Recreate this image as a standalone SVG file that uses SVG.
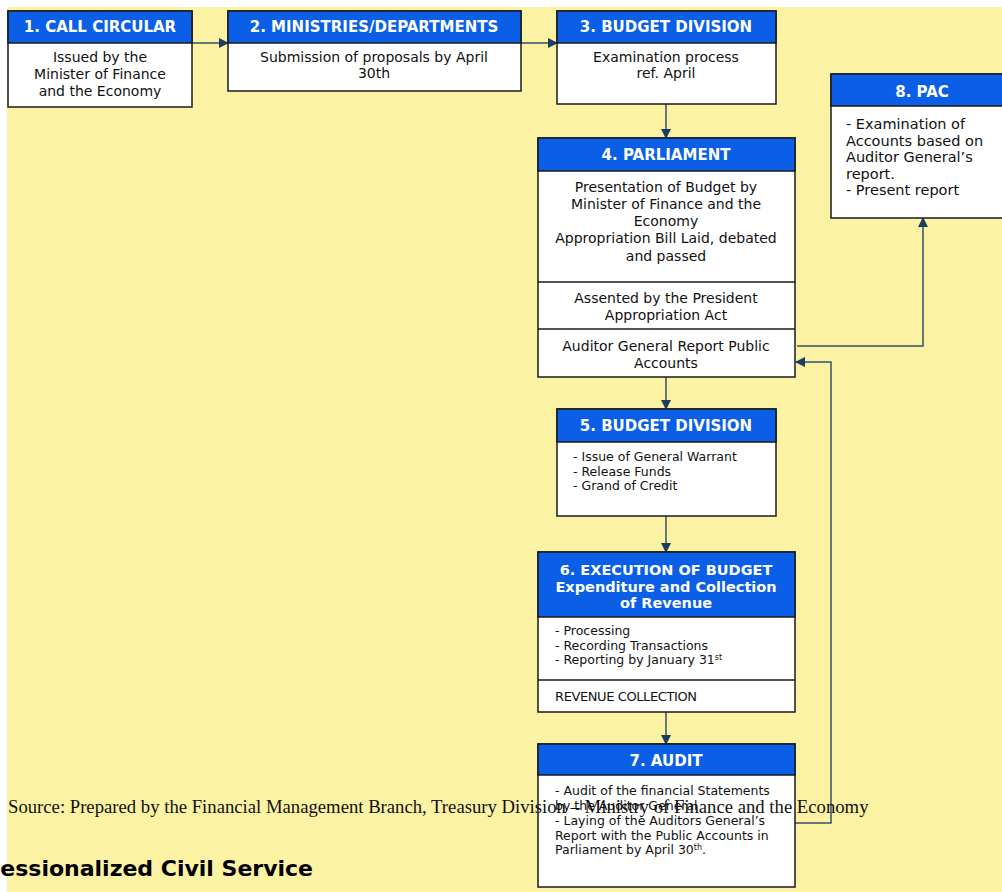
<svg xmlns="http://www.w3.org/2000/svg" width="1002" height="892" viewBox="0 0 1002 892">
<defs>
<style>
.box{fill:#ffffff;stroke:#1a1a1a;stroke-width:1.5}
.hdr{fill:#0a5fe6;stroke:#1a1a1a;stroke-width:1.5}
.div{stroke:#1a1a1a;stroke-width:1.5}
.ht{font-family:"DejaVu Sans",Verdana,sans-serif;font-weight:bold;font-size:15px;fill:#ffffff;text-anchor:middle}
.bt{font-family:"DejaVu Sans",Verdana,sans-serif;font-size:14px;fill:#111111;text-anchor:middle}
.st{font-family:"DejaVu Sans",Verdana,sans-serif;font-size:12.5px;fill:#111111}
.pt{font-family:"DejaVu Sans",Verdana,sans-serif;font-size:14.5px;fill:#111111}
.con{fill:none;stroke:#34506a;stroke-width:1.5}
</style>
<marker id="ah" viewBox="0 0 10 10" refX="9" refY="5" markerWidth="10" markerHeight="10" markerUnits="userSpaceOnUse" orient="auto">
<path d="M0,0 L10,5 L0,10 z" fill="#1c3d5e"/>
</marker>
</defs>
<rect x="0" y="0" width="1002" height="892" fill="#ffffff"/>
<rect x="7" y="7" width="995" height="885" fill="#fcf2a4"/>

<g id="connectors">
<line class="con" x1="192" y1="43" x2="228" y2="43" marker-end="url(#ah)"/>
<line class="con" x1="521" y1="43" x2="557" y2="43" marker-end="url(#ah)"/>
<line class="con" x1="666" y1="104" x2="666" y2="138" marker-end="url(#ah)"/>
<line class="con" x1="666" y1="377" x2="666" y2="409" marker-end="url(#ah)"/>
<line class="con" x1="666" y1="516" x2="666" y2="552" marker-end="url(#ah)"/>
<line class="con" x1="666" y1="712" x2="666" y2="744" marker-end="url(#ah)"/>
<polyline class="con" points="797,346 923,346 923,218" marker-end="url(#ah)"/>
<polyline class="con" points="795,823 831,823 831,362 796,362" marker-end="url(#ah)"/>
</g>

<g id="node1">
<rect class="box" x="8" y="11" width="184" height="96"/>
<rect class="hdr" x="8" y="11" width="184" height="32"/>
<text class="ht" x="100" y="32">1. CALL CIRCULAR</text>
<text class="bt" x="100" y="62">Issued by the</text>
<text class="bt" x="100" y="79">Minister of Finance</text>
<text class="bt" x="100" y="96">and the Economy</text>
</g>

<g id="node2">
<rect class="box" x="228" y="11" width="293" height="80"/>
<rect class="hdr" x="228" y="11" width="293" height="32"/>
<text class="ht" x="374" y="32">2. MINISTRIES/DEPARTMENTS</text>
<text class="bt" x="374" y="62">Submission of proposals by April</text>
<text class="bt" x="374" y="78">30th</text>
</g>

<g id="node3">
<rect class="box" x="557" y="11" width="219" height="93"/>
<rect class="hdr" x="557" y="11" width="219" height="32"/>
<text class="ht" x="666" y="32">3. BUDGET DIVISION</text>
<text class="bt" x="666" y="62">Examination process</text>
<text class="bt" x="666" y="78">ref. April</text>
</g>

<g id="node4">
<rect class="box" x="538" y="138" width="257" height="239"/>
<rect class="hdr" x="538" y="138" width="257" height="33"/>
<line class="div" x1="538" y1="282" x2="795" y2="282"/>
<line class="div" x1="538" y1="329" x2="795" y2="329"/>
<text class="ht" x="666" y="160">4. PARLIAMENT</text>
<text class="bt" x="666" y="192">Presentation of Budget by</text>
<text class="bt" x="666" y="209">Minister of Finance and the</text>
<text class="bt" x="666" y="226">Economy</text>
<text class="bt" x="666" y="243">Appropriation Bill Laid, debated</text>
<text class="bt" x="666" y="261">and passed</text>
<text class="bt" x="666" y="303">Assented by the President</text>
<text class="bt" x="666" y="320">Appropriation Act</text>
<text class="bt" x="666" y="351">Auditor General Report Public</text>
<text class="bt" x="666" y="368">Accounts</text>
</g>

<g id="node5">
<rect class="box" x="557" y="409" width="219" height="107"/>
<rect class="hdr" x="557" y="409" width="219" height="33"/>
<text class="ht" x="666" y="431">5. BUDGET DIVISION</text>
<text class="st" x="573" y="461">- Issue of General Warrant</text>
<text class="st" x="573" y="476">- Release Funds</text>
<text class="st" x="573" y="490">- Grand of Credit</text>
</g>

<g id="node6">
<rect class="box" x="538" y="552" width="257" height="160"/>
<rect class="hdr" x="538" y="552" width="257" height="65"/>
<line class="div" x1="538" y1="680" x2="795" y2="680"/>
<text class="ht" x="666" y="575" style="font-size:14.5px">6. EXECUTION OF BUDGET</text>
<text class="ht" x="666" y="592" style="font-size:14.5px">Expenditure and Collection</text>
<text class="ht" x="666" y="608" style="font-size:14.5px">of Revenue</text>
<text class="st" x="555" y="635">- Processing</text>
<text class="st" x="555" y="650">- Recording Transactions</text>
<text class="st" x="555" y="664">- Reporting by January 31<tspan font-size="8" dy="-4">st</tspan></text>
<text class="st" x="555" y="701" style="font-size:13px" letter-spacing="-0.4">REVENUE COLLECTION</text>
</g>

<g id="node7">
<rect class="box" x="538" y="744" width="257" height="143"/>
<rect class="hdr" x="538" y="744" width="257" height="31"/>
<text class="ht" x="666" y="766">7. AUDIT</text>
<text class="st" x="555" y="795">- Audit of the financial Statements</text>
<text class="st" x="555" y="810">by the Auditor General</text>
<text class="st" x="555" y="825">- Laying of the Auditors General’s</text>
<text class="st" x="555" y="840">Report with the Public Accounts in</text>
<text class="st" x="555" y="854">Parliament by April 30<tspan font-size="8" dy="-4">th</tspan><tspan dy="4">.</tspan></text>
</g>

<g id="node8">
<rect class="box" x="831" y="74" width="182" height="144"/>
<rect class="hdr" x="831" y="74" width="182" height="32"/>
<text class="ht" x="922" y="97">8. PAC</text>
<text class="pt" x="846" y="129">- Examination of</text>
<text class="pt" x="846" y="146">Accounts based on</text>
<text class="pt" x="846" y="162">Auditor General’s</text>
<text class="pt" x="846" y="179">report.</text>
<text class="pt" x="846" y="195">- Present report</text>
</g>

<text x="8" y="813" font-family="Liberation Serif,Times New Roman,serif" font-size="18.7" fill="#111111">Source: Prepared by the Financial Management Branch, Treasury Division – Ministry of Finance and the Economy</text>
<text x="313" y="876" text-anchor="end" font-family="DejaVu Sans,Verdana,sans-serif" font-weight="bold" font-size="22" fill="#000000">essionalized Civil Service</text>
</svg>
